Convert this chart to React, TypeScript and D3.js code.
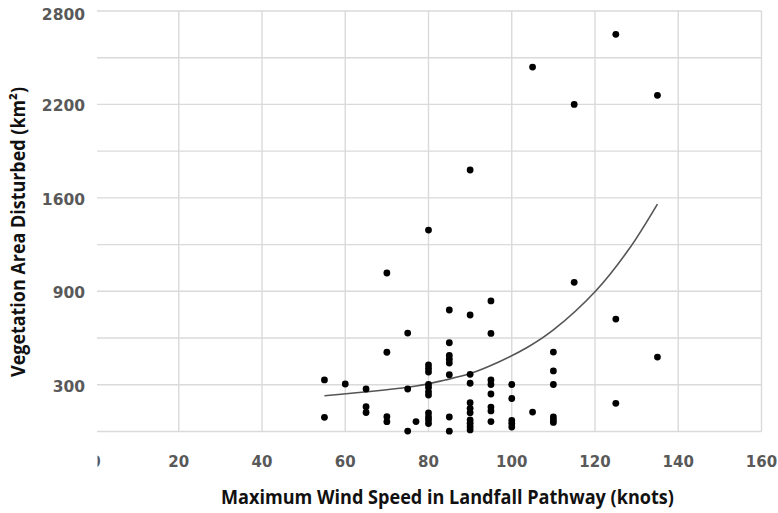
import React from 'react';
import * as d3 from 'd3';

const xTicks = [0, 20, 40, 60, 80, 100, 120, 140, 160];
const yTicks = [300, 900, 1600, 2200, 2800];
const yGrid = [0, 300, 600, 900, 1250, 1600, 1900, 2200, 2500, 2800];

const windSpeed = [
  55, 55,
  60,
  65, 65, 65,
  70, 70, 70, 70,
  75, 75, 75,
  77,
  80, 80, 80, 80, 80, 80, 80, 80, 80, 80, 80, 80,
  85, 85, 85, 85, 85, 85, 85, 85,
  90, 90, 90, 90, 90, 90, 90, 90, 90, 90, 90,
  95, 95, 95, 95, 95, 95, 95, 95,
  100, 100, 100, 100, 100,
  105, 105,
  110, 110, 110, 110, 110, 110,
  115, 115,
  125, 125, 125,
  135, 135,
];
const areaDisturbed = [
  331, 91,
  305,
  273, 159, 122,
  1037, 509, 95, 63,
  632, 273, 3,
  64,
  1359, 427, 405, 382, 302, 282, 255, 234, 119, 93, 74, 51,
  780, 570, 488, 464, 440, 365, 93, 2,
  1779, 748, 367, 310, 185, 149, 121, 74, 53, 31, 10,
  838, 630, 331, 302, 241, 157, 132, 64,
  302, 212, 71, 51, 29,
  2440, 125,
  510, 389, 302, 93, 74, 58,
  2200, 967,
  2650, 722, 181,
  2258, 478,
];

const trendSpeed = [55, 77, 84, 90, 97, 104, 110, 120, 128, 135];
const trendArea = [230, 292, 331, 372, 448, 544, 652, 897, 1209, 1554];

export default function App() {
  const W = 778;
  const H = 513;
  const x = d3.scaleLinear().domain([0, 160]).range([95.5, 761.5]);
  const y = d3
    .scaleLinear()
    .domain([0, 300, 900, 1600, 2200, 2800])
    .range([431.5, 384.8, 291.3, 197.9, 104.4, 11]);

  const trendPath =
    d3
      .line<number>()
      .x((_, i) => x(trendSpeed[i]))
      .y((d) => y(d))
      .curve(d3.curveCatmullRom.alpha(0.5))(trendArea) || '';

  const tickFont = "'DejaVu Sans', sans-serif";
  const titleFont = "'Open Sans', 'DejaVu Sans', sans-serif";
  const gridColor = '#dadada';
  const left = 97;
  const right = x(160);
  const top = y(2800);
  const bottom = y(0);

  return (
    <div style={{ position: 'fixed', left: 0, top: 0, width: W, height: H, background: '#fff' }}>
      <svg width={W} height={H} style={{ display: 'block' }}>
        <defs>
          <clipPath id="zeroClip">
            <rect x={97.5} y={440} width={20} height={40} />
          </clipPath>
        </defs>
        <rect x={0} y={0} width={W} height={H} fill="#fff" />
        {yGrid.map((v) => (
          <line
            key={'h' + v}
            x1={left}
            x2={right}
            y1={y(v)}
            y2={y(v)}
            stroke={gridColor}
            strokeWidth={1.4}
          />
        ))}
        {xTicks
          .filter((t) => t > 0)
          .map((t) => (
            <line
              key={'v' + t}
              x1={x(t)}
              x2={x(t)}
              y1={top}
              y2={bottom}
              stroke={gridColor}
              strokeWidth={1.4}
            />
          ))}
        {yTicks.map((t) => (
          <text
            key={'yt' + t}
            x={85}
            y={y(t) + (t === 2800 ? 4.5 : 2.5)}
            textAnchor="end"
            dominantBaseline="middle"
            fontFamily={tickFont}
            fontWeight={700}
            fontSize={15.5}
            fill="#595959"
          >
            {t}
          </text>
        ))}
        {xTicks.map((t) => (
          <text
            key={'xt' + t}
            x={x(t)}
            y={462}
            textAnchor="middle"
            dominantBaseline="middle"
            fontFamily={tickFont}
            fontWeight={700}
            fontSize={15}
            fill="#595959"
            clipPath={t === 0 ? 'url(#zeroClip)' : undefined}
          >
            {t}
          </text>
        ))}
        <path d={trendPath} fill="none" stroke="#555" strokeWidth={1.6} />
        {windSpeed.map((s, i) => (
          <circle key={'p' + i} cx={x(s)} cy={y(areaDisturbed[i])} r={3.4} fill="#000" />
        ))}
        <text
          x={447.5}
          y={504}
          textAnchor="middle"
          fontFamily={titleFont}
          fontWeight={700}
          fontSize={19}
          fill="#111"
          textLength={453}
          lengthAdjust="spacingAndGlyphs"
        >
          Maximum Wind Speed in Landfall Pathway (knots)
        </text>
        <text
          transform={`translate(25,232) rotate(-90)`}
          textAnchor="middle"
          fontFamily={titleFont}
          fontWeight={700}
          fontSize={19}
          fill="#111"
          textLength={290}
          lengthAdjust="spacingAndGlyphs"
        >
          Vegetation Area Disturbed (km²)
        </text>
      </svg>
    </div>
  );
}
